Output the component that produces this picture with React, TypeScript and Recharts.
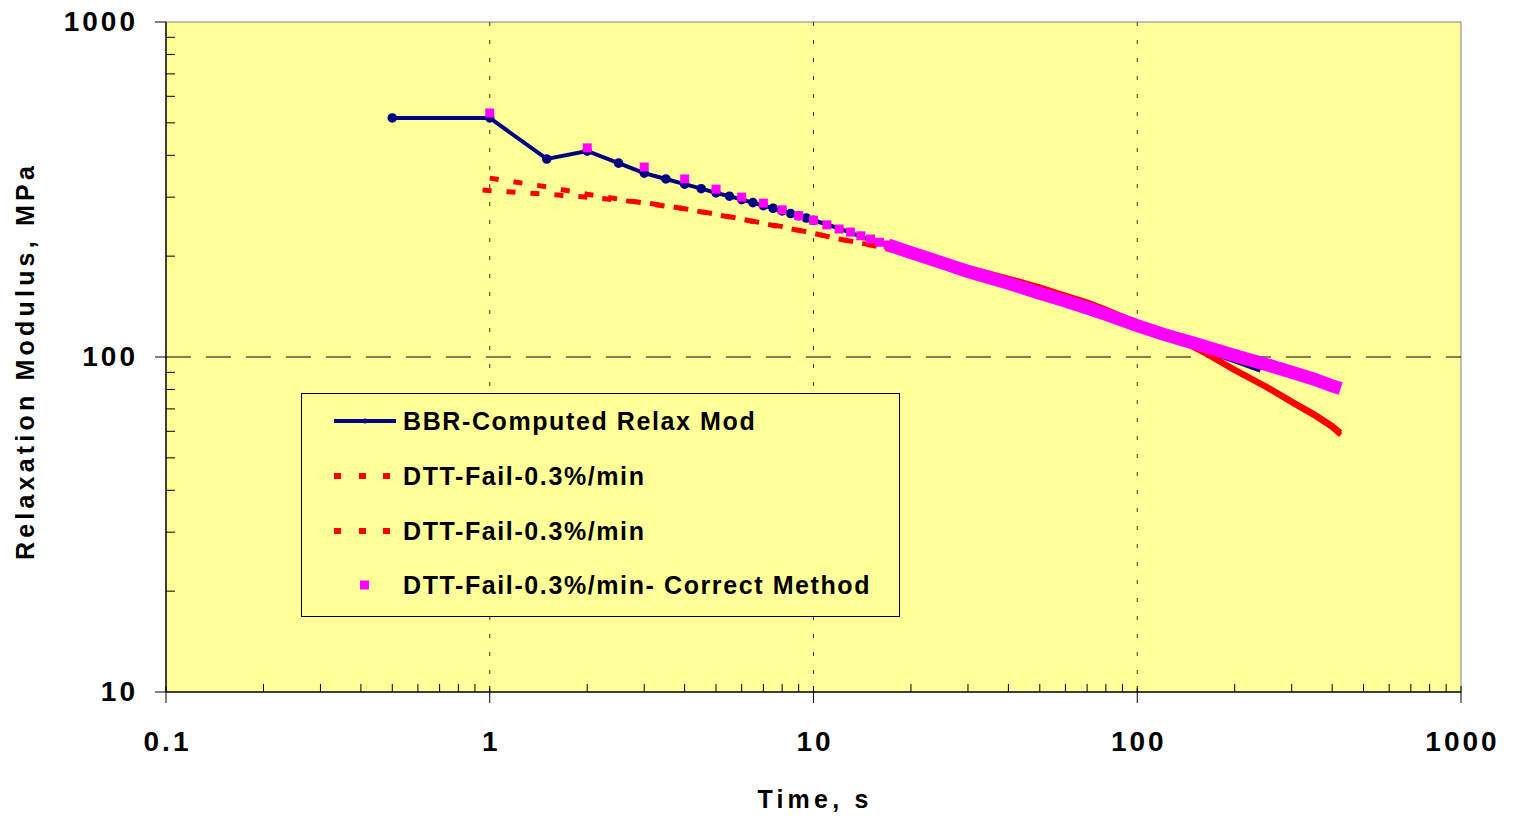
import React from "react";
import { LineChart, Line, XAxis, YAxis, CartesianGrid, ReferenceLine } from "recharts";

// BBR computed relaxation modulus (s, MPa): marked part, then the part hidden under the band
const bbrTime = [0.5, 1, 1.5, 2, 2.5, 3, 3.5, 4, 4.5, 5, 5.5, 6, 6.5, 7, 7.5, 8, 8.5, 9, 9.5, 10];
const bbrModulus = [517, 517, 390, 412, 379, 354, 340, 328, 318, 309, 302, 295, 289, 283, 278, 273, 268, 264, 260, 256];
const bbrLateTime = [10, 12, 15, 20, 30, 50, 80, 100, 150, 200, 240];
const bbrLateModulus = [256, 242, 223, 204, 180, 156, 134, 124, 107, 97, 91];

// DTT fail 0.3%/min, first run (early dashed part, late part)
const dttAEarlyTime = [1, 1.5, 2, 3, 4, 5, 6, 8, 10, 12, 15, 18];
const dttAEarlyModulus = [342, 322, 306, 288, 277, 267, 258, 245, 234, 225, 216, 208];
const dttALateTime = [18, 20, 25, 30, 40, 50, 60, 70, 80, 100, 120, 140, 160, 200, 250, 300, 350, 400, 425];
const dttALateModulus = [208, 204, 194, 185, 172, 162, 153, 146, 139, 127, 118, 111, 104, 92, 82, 74, 68, 62.5, 59.5];

// DTT fail 0.3%/min, second run
const dttBEarlyTime = [0.95, 1.5, 2, 3, 4, 5, 6, 8, 10, 12, 15, 18];
const dttBEarlyModulus = [315, 306, 300, 289, 277, 266, 258, 244, 234, 225, 216, 207];
const dttBLateTime = [18, 20, 25, 30, 40, 50, 60, 70, 80, 100, 120, 140, 160, 200, 250, 300, 350, 400, 425];
const dttBLateModulus = [207, 203, 193, 184, 171, 161, 152, 145, 138, 126, 117, 110, 103, 91, 81, 73, 67, 61.5, 58.5];

// DTT correct method (sparse squares, then dense band)
const correctTime = [1, 2, 3, 4, 5, 6, 7, 8, 9, 10, 11, 12, 13, 14, 15, 16, 17, 18];
const correctModulus = [535, 421, 369, 340, 317, 300, 288, 275, 264, 256, 248, 241, 236, 230, 225, 220, 216, 212];
const correctDenseTime = [17, 18, 20, 25, 30, 40, 50, 60, 70, 80, 100, 120, 150, 200, 250, 300, 350, 400, 425];
const correctDenseModulus = [216, 212, 205, 191, 180, 166, 155, 147, 140, 134, 124, 117, 110, 101, 95, 90, 86, 82, 80.5];

const xMajor = [0.1, 1, 10, 100, 1000];
const xLabels = ["0.1", "1", "10", "100", "1000"];
const xMinor = [0.2, 0.3, 0.4, 0.5, 0.6, 0.7, 0.8, 0.9, 2, 3, 4, 5, 6, 7, 8, 9, 20, 30, 40, 50, 60, 70, 80, 90, 200, 300, 400, 500, 600, 700, 800, 900];
const yMajor = [10, 100, 1000];
const yLabels = ["10", "100", "1000"];
const yMinor = [20, 30, 40, 50, 60, 70, 80, 90, 200, 300, 400, 500, 600, 700, 800, 900];

const legendLabels = ["BBR-Computed Relax Mod", "DTT-Fail-0.3%/min", "DTT-Fail-0.3%/min", "DTT-Fail-0.3%/min- Correct Method"];

const toPoints = (t: number[], g: number[]) => t.map((v, i) => ({ t: v, g: g[i] }));

const FONT = "'Liberation Sans', Arial, sans-serif";
const W = 1513;
const H = 820;

const renderXTick = (p: any) => {
  const { x, y, payload } = p;
  const idx = xMajor.indexOf(payload.value);
  if (idx < 0) {
    return <line x1={x} y1={y} x2={x} y2={y - 8} stroke="#000" />;
  }
  return (
    <g>
      <line x1={x} y1={y - 6} x2={x} y2={y + 11} stroke="#000" />
      <text x={x + 1.5} y={y + 59} textAnchor="middle" fontFamily={FONT} fontWeight="bold" fontSize={28} letterSpacing={3} fill="#000">
        {xLabels[idx]}
      </text>
    </g>
  );
};

const renderYTick = (p: any) => {
  const { x, y, payload } = p;
  const idx = yMajor.indexOf(payload.value);
  if (idx < 0) {
    return <line x1={x} y1={y} x2={x + 9} y2={y} stroke="#000" />;
  }
  return (
    <g>
      <line x1={x - 11} y1={y} x2={x} y2={y} stroke="#000" />
      <text x={x - 28} y={y + 9} textAnchor="end" fontFamily={FONT} fontWeight="bold" fontSize={28} letterSpacing={3} fill="#000">
        {yLabels[idx]}
      </text>
    </g>
  );
};

const squareDot = (p: any) => (
  <rect key={"sq" + p.index} x={p.cx - 4.5} y={p.cy - 4.5} width={9} height={9} fill="#FF00FF" />
);

// overlay uses page coordinates (wrapper is pulled over the body margin)
function Overlay() {
  const lx = 301;
  const ly = 393;
  const rows = [28, 83, 138, 192];
  return (
    <svg width={W} height={H} style={{ position: "absolute", left: 0, top: 0, pointerEvents: "none" }}>
      <text x={815} y={808} textAnchor="middle" fontFamily={FONT} fontWeight="bold" fontSize={25} letterSpacing={4.2}>
        Time, s
      </text>
      <text transform="translate(34, 361) rotate(-90)" textAnchor="middle" fontFamily={FONT} fontWeight="bold" fontSize={25} letterSpacing={4.2}>
        Relaxation Modulus, MPa
      </text>
      <g transform={`translate(${lx}, ${ly})`}>
        <rect x={0.5} y={0.5} width={598} height={223} fill="#FFFF99" stroke="#000" />
        <line x1={33} x2={95} y1={rows[0]} y2={rows[0]} stroke="#000080" strokeWidth={4} />
        <circle cx={64} cy={rows[0]} r={2.5} fill="#000080" />
        {[rows[1], rows[2]].map((ry) => (
          <g key={ry}>
            {[33, 58, 82].map((sx) => (
              <rect key={sx} x={sx} y={ry - 3} width={7} height={6} fill="#FF0000" />
            ))}
          </g>
        ))}
        <rect x={59} y={rows[3] - 4.5} width={9} height={9} fill="#FF00FF" />
        {legendLabels.map((s, i) => (
          <text key={i} x={102} y={rows[i] + 9} fontFamily={FONT} fontWeight="bold" fontSize={25} letterSpacing={1.6}>
            {s}
          </text>
        ))}
      </g>
    </svg>
  );
}

export default function App() {
  return (
    <div style={{ position: "relative", width: W, height: H, margin: "-8px 0 0 -8px", background: "#fff" }}>
      <div style={{ position: "absolute", left: 8, top: 0 }}>
        <LineChart width={1497} height={H} margin={{ top: 22, right: 44, left: 58, bottom: 48 }}>
          <CartesianGrid fill="#FFFF99" stroke="none" horizontal={false} vertical={false} />
          <XAxis
            type="number"
            dataKey="t"
            scale="log"
            domain={[0.1, 1000]}
            allowDataOverflow
            ticks={[...xMajor, ...xMinor]}
            interval={0}
            tickLine={false}
            tickSize={0}
            tickMargin={0}
            tick={renderXTick}
            axisLine={{ stroke: "#000", strokeWidth: 1.5 }}
            height={80}
          />
          <YAxis
            type="number"
            scale="log"
            domain={[10, 1000]}
            allowDataOverflow
            ticks={[...yMajor, ...yMinor]}
            interval={0}
            tickLine={false}
            tickSize={0}
            tickMargin={0}
            tick={renderYTick}
            axisLine={{ stroke: "#000", strokeWidth: 1.5 }}
            width={100}
          />
          <ReferenceLine y={1000} stroke="#808080" />
          <ReferenceLine x={1000} stroke="#808080" />
          <ReferenceLine x={1} stroke="#333" strokeDasharray="4 14" />
          <ReferenceLine x={10} stroke="#333" strokeDasharray="4 14" />
          <ReferenceLine x={100} stroke="#333" strokeDasharray="4 14" />
          <ReferenceLine y={100} stroke="#000" strokeDasharray="25 15" />
          <Line
            data={toPoints(bbrTime, bbrModulus)}
            dataKey="g"
            type="linear"
            stroke="#000080"
            strokeWidth={4}
            dot={{ r: 2.8, fill: "#000080", stroke: "#000080" }}
            isAnimationActive={false}
          />
          <Line data={toPoints(bbrLateTime, bbrLateModulus)} dataKey="g" type="linear" stroke="#000080" strokeWidth={4} dot={false} isAnimationActive={false} />
          <Line data={toPoints(dttAEarlyTime, dttAEarlyModulus)} dataKey="g" type="linear" stroke="#FF0000" strokeWidth={5} strokeDasharray="9 15" dot={false} isAnimationActive={false} />
          <Line data={toPoints(dttBEarlyTime, dttBEarlyModulus)} dataKey="g" type="linear" stroke="#FF0000" strokeWidth={5} strokeDasharray="9 15" dot={false} isAnimationActive={false} />
          <Line data={toPoints(dttALateTime, dttALateModulus)} dataKey="g" type="linear" stroke="#FF0000" strokeWidth={5} dot={false} isAnimationActive={false} />
          <Line data={toPoints(dttBLateTime, dttBLateModulus)} dataKey="g" type="linear" stroke="#FF0000" strokeWidth={5} dot={false} isAnimationActive={false} />
          <Line data={toPoints(correctDenseTime, correctDenseModulus)} dataKey="g" type="linear" stroke="#FF00FF" strokeWidth={13} dot={false} isAnimationActive={false} />
          <Line data={toPoints(correctTime, correctModulus)} dataKey="g" type="linear" stroke="none" dot={squareDot} isAnimationActive={false} />
        </LineChart>
      </div>
      <Overlay />
    </div>
  );
}
